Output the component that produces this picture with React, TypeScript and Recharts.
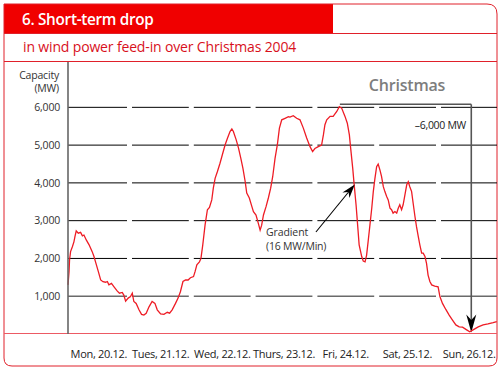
import React from 'react';
import { LineChart, Line, XAxis, YAxis, ReferenceLine } from 'recharts';

// Hours since Mon 20.12. 00:00
const hours = [
  0, 0.4, 0.6, 1.0, 1.7, 2.3, 2.7, 3.2, 4.0, 4.9, 5.6, 6.2, 7.1, 8.2, 9.4, 10.1, 10.7, 11.8, 12.7, 13.6,
  14.6, 15.3, 15.9, 16.9, 17.9, 19.1, 20.0, 21.1, 21.7, 22.4, 23.4, 24.3, 25.0, 25.6, 26.5, 27.6, 28.6, 29.5, 30.4, 31.5,
  32.7, 33.8, 34.7, 36.0, 37.3, 38.6, 39.5, 40.5, 41.8, 42.8, 43.7, 44.7, 45.7, 46.7, 47.6, 48.8, 49.4, 50.1, 51.1, 51.7,
  52.4, 53.3, 54.2, 55.0, 55.9, 56.5, 57.2, 58.1, 59.1, 60.2, 61.1, 62.0, 63.0, 63.7, 64.3, 65.4, 66.3, 67.2, 68.0, 68.9,
  69.5, 70.5, 71.5, 72.1, 73.1, 74.0, 74.7, 75.3, 76.0, 77.0, 77.9, 78.8, 79.6, 80.5, 81.4, 82.2, 83.1, 84.4, 85.7, 86.3,
  87.6, 88.9, 90.2, 91.5, 92.8, 94.1, 95.1, 96.0, 97.3, 98.6, 99.3, 99.9, 100.6, 101.9, 103.1, 104.5, 105.5, 106.4, 107.7, 108.6,
  109.4, 109.9, 110.7, 111.2, 112.0, 112.5, 113.2, 114.2, 114.8, 115.5, 116.1, 116.7, 117.4, 118.1, 118.7, 119.3, 120.0, 120.6, 121.3, 121.9,
  122.6, 123.2, 123.9, 124.5, 125.2, 125.8, 126.4, 127.1, 127.8, 128.4, 129.0, 129.7, 130.3, 131.0, 131.7, 132.3, 132.9, 133.6, 134.2, 134.9,
  135.5, 136.2, 136.8, 137.5, 138.1, 138.8, 139.4, 140.0, 140.7, 141.4, 142.6, 143.9, 144.6, 145.6, 146.9, 148.2, 149.5, 150.8, 152.1, 153.4,
  155.0, 156.2, 157.5, 159.5, 161.4, 163.3, 165.3, 166.7,
];

// Wind power feed-in (MW)
const capacity = [
  1300, 1650, 1960, 2180, 2310, 2440, 2580, 2730, 2670, 2690, 2600, 2620, 2490, 2360, 2180, 2050, 1910, 1650, 1430, 1385,
  1370, 1390, 1300, 1340, 1250, 1140, 1080, 1100, 1030, 870, 950, 990, 1080, 860, 810, 640, 520, 500, 550, 720,
  860, 810, 640, 530, 520, 575, 550, 640, 810, 950, 1120, 1390, 1430, 1430, 1490, 1520, 1650, 1830, 1910, 2000,
  2360, 2890, 3290, 3350, 3550, 3860, 4120, 4300, 4520, 4790, 5010, 5180, 5360, 5430, 5360, 5140, 4920, 4650, 4390, 4030,
  3730, 3600, 3370, 3240, 3150, 2930, 2750, 2880, 3150, 3370, 3600, 3860, 4170, 4650, 5010, 5450, 5670, 5710, 5750, 5740,
  5780, 5710, 5670, 5450, 5190, 4960, 4830, 4910, 4960, 5000, 5270, 5540, 5670, 5760, 5760, 5890, 6020, 5980, 5760, 5580,
  5270, 4920, 4390, 4000, 3420, 2980, 2360, 2050, 1930, 1910, 2090, 2450, 2890, 3330, 3770, 4100, 4430, 4500, 4340, 4170,
  3900, 3770, 3640, 3550, 3330, 3290, 3200, 3240, 3200, 3330, 3420, 3290, 3420, 3680, 3950, 4030, 3900, 3770, 3460, 3110,
  2840, 2580, 2360, 2140, 2140, 2050, 1870, 1560, 1390, 1300, 1270, 1250, 990, 810, 650, 500, 370, 240, 190, 180,
  110, 60, 110, 190, 240, 265, 300, 330,
];

const dayLabels = ['Mon, 20.12.', 'Tues, 21.12.', 'Wed, 22.12.', 'Thurs, 23.12.', 'Fri, 24.12.', 'Sat, 25.12.', 'Sun, 26.12.'];
const dayCenters = [12, 36, 60, 84, 108, 132, 156];
const yTicks = [1000, 2000, 3000, 4000, 5000, 6000];

// Annotation anchors (hours, MW)
const bracketLevel = 6080;
const bracketStartHour = 105.7;
const dropHour = 156.8;
const dropBottom = 40;
const gradientStart = { h: 96.4, mw: 2700 };
const gradientEnd = { h: 111.5, mw: 3960 };

const rows = hours.map((h, i) => ({ h, mw: capacity[i] }));

const FONT = '"Open Sans", "Noto Sans", sans-serif';
const RED = '#f00000';
const GRID_DASH = '59 5 56.8 5 56.8 5 56.8 5 56.8 5 56.8 5 80';

const arrowShape = (lineColor: string, headColor: string, width: number, len: number, headW: number) => (p: any) => {
  const { x1, y1, x2, y2 } = p;
  const dx = x2 - x1;
  const dy = y2 - y1;
  const d = Math.sqrt(dx * dx + dy * dy) || 1;
  const ux = dx / d;
  const uy = dy / d;
  const px = -uy;
  const py = ux;
  const bx = x2 - ux * len;
  const by = y2 - uy * len;
  const nx = x2 - ux * len * 0.7;
  const ny = y2 - uy * len * 0.7;
  const pts = [
    [x2, y2],
    [bx + px * headW / 2, by + py * headW / 2],
    [nx, ny],
    [bx - px * headW / 2, by - py * headW / 2],
  ].map((q) => q.join(',')).join(' ');
  return (
    <g>
      <line x1={x1} y1={y1} x2={nx} y2={ny} stroke={lineColor} strokeWidth={width} />
      <polygon points={pts} fill={headColor} />
    </g>
  );
};

const XTick = (props: any) => {
  const { x, y, payload } = props;
  const idx = dayCenters.indexOf(payload.value);
  return (
    <text x={x} y={y + 24} textAnchor="middle" fontSize={11} fill="#222" fontFamily={FONT} letterSpacing={-0.3}>
      {dayLabels[idx]}
    </text>
  );
};

const YTick = (props: any) => {
  const { x, y, payload } = props;
  return (
    <text x={x} y={y} dy="0.35em" textAnchor="end" fontSize={10.5} fill="#333" fontFamily={FONT} letterSpacing={-0.2}>
      {Number(payload.value).toLocaleString('en-US')}
    </text>
  );
};

export default function App() {
  return (
    <div style={{ position: 'absolute', left: 0, top: 0, width: 500, height: 371, background: '#fff', fontFamily: FONT }}>
      <svg width={500} height={371} style={{ position: 'absolute', left: 0, top: 0 }}>
        <rect x={4} y={4} width={329} height={29} fill={RED} />
        <path
          d="M4,4 H487 Q497,4 497,14 V358 Q497,366 489,366 H12 Q4,366 4,358 Z"
          fill="none"
          stroke="#e0202a"
          strokeWidth={1}
        />
        <line x1={4} y1={33.5} x2={497} y2={33.5} stroke="#e0202a" strokeWidth={1} />
        <line x1={4} y1={61.5} x2={497} y2={61.5} stroke="#e0202a" strokeWidth={1} />
        <line x1={4} y1={333.5} x2={497} y2={333.5} stroke="#ec5a64" strokeWidth={1} />
        <text x={22} y={25} fill="#fff" fontSize={15.3} fontWeight={600} letterSpacing={-0.3}>
          6. Short-term drop
        </text>
        <text x={23} y={52} fill="#d8101c" fontSize={14} letterSpacing={-0.15}>
          in wind power feed-in over Christmas 2004
        </text>
        <text x={59} y={79} textAnchor="end" fill="#333" fontSize={10.5} letterSpacing={-0.2}>
          Capacity
        </text>
        <text x={59} y={92} textAnchor="end" fill="#333" fontSize={10.5} letterSpacing={-0.2}>
          (MW)
        </text>
        <text x={407} y={91} textAnchor="middle" fill="#7d7d7d" fontSize={16} fontWeight={600} letterSpacing={-0.2}>
          Christmas
        </text>
        <text x={466} y={129} textAnchor="end" fill="#222" fontSize={10.5} letterSpacing={-0.3}>
          –6,000 MW
        </text>
        <text x={266} y={236} fill="#333" fontSize={10.5} letterSpacing={-0.1}>
          Gradient
        </text>
        <text x={266} y={250} fill="#333" fontSize={10.5} letterSpacing={-0.2}>
          (16 MW/Min)
        </text>
      </svg>
      <div style={{ position: 'absolute', left: 0, top: 0 }}>
        <LineChart width={500} height={371} data={rows} margin={{ top: 62, right: 3, bottom: 7, left: 0 }}>
          <XAxis
            dataKey="h"
            type="number"
            domain={[0, 166.8]}
            ticks={dayCenters}
            axisLine={false}
            tickLine={false}
            tickSize={0}
            tickMargin={0}
            height={30}
            tick={<XTick />}
            interval={0}
          />
          <YAxis
            type="number"
            domain={[0, 7200]}
            ticks={yTicks}
            width={68}
            axisLine={{ stroke: '#666', strokeWidth: 1.6 }}
            tickLine={false}
            tickSize={0}
            tickMargin={8}
            tick={<YTick />}
            interval={0}
          />
          {yTicks.map((v) => (
            <ReferenceLine
              key={v}
              y={v}
              stroke={v === 1000 ? '#6a6a6a' : '#000'}
              strokeWidth={v === 1000 ? 1.6 : 1}
              strokeDasharray={GRID_DASH}
            />
          ))}
          <ReferenceLine
            segment={[
              { x: bracketStartHour, y: bracketLevel },
              { x: dropHour, y: bracketLevel },
            ]}
            stroke="#555"
            strokeWidth={1.6}
          />
          <ReferenceLine
            segment={[
              { x: dropHour, y: bracketLevel },
              { x: dropHour, y: dropBottom },
            ]}
            shape={arrowShape('#555', '#000', 1.6, 18, 10)}
          />
          <Line
            dataKey="mw"
            type="linear"
            stroke="#ee1c25"
            strokeWidth={1.3}
            dot={false}
            isAnimationActive={false}
          />
          <ReferenceLine
            segment={[
              { x: gradientStart.h, y: gradientStart.mw },
              { x: gradientEnd.h, y: gradientEnd.mw },
            ]}
            shape={arrowShape('#000', '#000', 1.1, 14, 9)}
          />
        </LineChart>
      </div>
    </div>
  );
}
